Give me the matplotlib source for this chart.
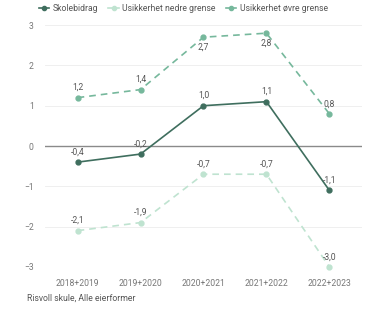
import numpy as np
import matplotlib.pyplot as plt
from matplotlib.lines import Line2D

plt.rcParams['font.family'] = ['Roboto', 'DejaVu Sans']

categories = ["2018+2019", "2019+2020", "2020+2021", "2021+2022", "2022+2023"]
skolebidrag = [-0.4, -0.2, 1.0, 1.1, -1.1]
nedre = [-2.1, -1.9, -0.7, -0.7, -3.0]
ovre = [1.2, 1.4, 2.7, 2.8, 0.8]

C_MAIN = "#3f6e5e"
C_LOW = "#bfe3d0"
C_HIGH = "#76b89c"


def fmt(v):
    return f"{v:.1f}".replace(".", ",")


fig = plt.figure(figsize=(3.65, 3.10), dpi=100)
ax = fig.add_axes([0.123, 0.139, 0.869, 0.780])
x = np.arange(len(categories))

for yv in range(-3, 4):
    if yv == 0:
        continue
    ax.axhline(yv, color="#ececec", lw=0.6, zorder=0)
ax.axhline(0, color="#8a8a8a", lw=1.0, zorder=1)

ax.plot(x, ovre, color=C_HIGH, lw=1.2, ls=(0, (4, 3)), marker="o", ms=3.5,
        clip_on=False, zorder=3)
ax.plot(x, nedre, color=C_LOW, lw=1.2, ls=(0, (4, 3)), marker="o", ms=3.5,
        clip_on=False, zorder=3)
ax.plot(x, skolebidrag, color=C_MAIN, lw=1.2, marker="o", ms=3.5,
        clip_on=False, zorder=4)

for series in (ovre, nedre, skolebidrag):
    for xi, v in zip(x, series):
        below = v > 2.5
        ax.annotate(fmt(v), (xi, v), xytext=(0, -4 if below else 4),
                    textcoords="offset points", ha="center",
                    va="top" if below else "bottom", fontsize=6.2,
                    color="#555555", zorder=5)

ax.set_xlim(-0.52, 4.52)
ax.set_ylim(-3, 3)
ax.set_xticks(x, categories)
ax.set_yticks(range(-3, 4))
ax.tick_params(axis="both", length=0, labelsize=6.2, labelcolor="#777777")
ax.tick_params(axis="x", pad=9)
ax.tick_params(axis="y", pad=8)
for s in ax.spines.values():
    s.set_visible(False)

handles = [
    Line2D([], [], color=C_MAIN, lw=1.2, marker="o", ms=3),
    Line2D([], [], color=C_LOW, lw=1.2, marker="o", ms=3),
    Line2D([], [], color=C_HIGH, lw=1.2, marker="o", ms=3),
]
fig.legend(handles, ["Skolebidrag", "Usikkerhet nedre grense", "Usikkerhet øvre grense"],
           loc="upper left", bbox_to_anchor=(0.085, 1.012), ncol=3, frameon=False,
           fontsize=6.2, handlelength=1.2, handletextpad=0.4, columnspacing=1.2,
           labelcolor="#555555")

fig.text(0.075, 0.03, "Risvoll skule, Alle eierformer", fontsize=6.2, color="#555555")

fig.savefig("out.png", dpi=100)
